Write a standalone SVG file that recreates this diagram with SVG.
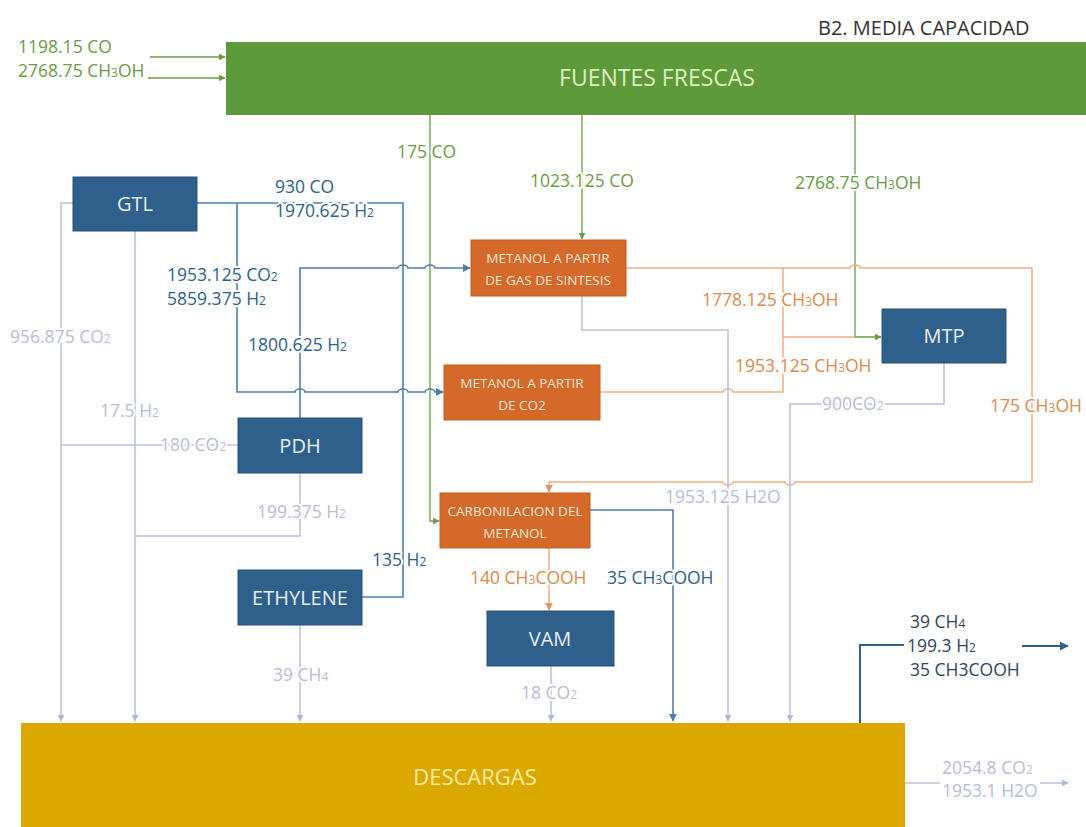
<svg xmlns="http://www.w3.org/2000/svg" width="1086" height="827" viewBox="0 0 1086 827">
  <style>
    text { font-family: "Open Sans", "Liberation Sans", sans-serif; }
    .lbl { font-size: 17.5px; paint-order: stroke; stroke: #ffffff; stroke-width: 4px; stroke-linejoin: round; }
    .sub { font-size: 12px; }
    .green-t { fill: #6c9a46; }
    .blue-t { fill: #2f5f8b; }
    .lav-t { fill: #b7bcd6; }
    .org-t { fill: #d98a4e; }
    .dark-t { fill: #2f4660; }
    .box-blue { fill: #2f5f8b; stroke: #285378; stroke-width: 1; }
    .box-org { fill: #d4692a; stroke: #c45e22; stroke-width: 1; }
    .box-t { fill: #e6eef8; font-size: 20px; text-anchor: middle; }
    .org-box-t { fill: #fbe6d4; font-size: 13.5px; text-anchor: middle; }
    .c-green { stroke: #6f9a47; stroke-width: 1.3; fill: none; }
    .c-blue { stroke: #4f7fab; stroke-width: 1.6; fill: none; }
    .c-lav { stroke: #b9c0de; stroke-width: 1.5; fill: none; }
    .c-org { stroke: #eeae84; stroke-width: 1.5; fill: none; }
    .c-dark { stroke: #2f5f8b; stroke-width: 2; fill: none; }
  </style>
  <defs>
    <marker id="ah-green" viewBox="0 0 10 10" refX="9" refY="5" markerWidth="7" markerHeight="7" orient="auto" markerUnits="userSpaceOnUse">
      <path d="M0,0 L10,5 L0,10 z" fill="#6f9a47"/>
    </marker>
    <marker id="ah-blue" viewBox="0 0 10 10" refX="9" refY="5" markerWidth="8" markerHeight="8" orient="auto" markerUnits="userSpaceOnUse">
      <path d="M0,0 L10,5 L0,10 z" fill="#4f7fab"/>
    </marker>
    <marker id="ah-lav" viewBox="0 0 10 10" refX="9" refY="5" markerWidth="7" markerHeight="7" orient="auto" markerUnits="userSpaceOnUse">
      <path d="M0,0 L10,5 L0,10 z" fill="#b0b8da"/>
    </marker>
    <marker id="ah-org" viewBox="0 0 10 10" refX="9" refY="5" markerWidth="8" markerHeight="8" orient="auto" markerUnits="userSpaceOnUse">
      <path d="M0,0 L10,5 L0,10 z" fill="#e49560"/>
    </marker>
    <marker id="ah-dark" viewBox="0 0 10 10" refX="9" refY="5" markerWidth="9" markerHeight="9" orient="auto" markerUnits="userSpaceOnUse">
      <path d="M0,0 L10,5 L0,10 z" fill="#2f5f8b"/>
    </marker>
  </defs>

  <rect width="1086" height="827" fill="#ffffff"/>

  <!-- connectors -->
  <g id="connectors">
    <!-- fresh feeds -->
    <path class="c-green" d="M150,57 H225" marker-end="url(#ah-green)"/>
    <path class="c-green" d="M148,78 H225" marker-end="url(#ah-green)"/>
    <path class="c-green" d="M430,115 V521 H439" marker-end="url(#ah-green)"/>
    <path class="c-green" d="M582,115 V239" marker-end="url(#ah-green)"/>
    <path class="c-green" d="M855,115 V337 H881" marker-end="url(#ah-green)"/>

    <!-- GTL gas products -->
    <path class="c-blue" d="M197,203 H403 V597 H362"/>
    <path class="c-blue" d="M237,203 V392 H295 a5,3 0 0 1 10,0 H398 a5,3 0 0 1 10,0 H425 a5,3 0 0 1 10,0 H443" marker-end="url(#ah-blue)"/>
    <path class="c-blue" d="M300,418 V268 H398 a5,3 0 0 1 10,0 H425 a5,3 0 0 1 10,0 H470" marker-end="url(#ah-blue)"/>
    <path class="c-blue" d="M590,510 H673 V721" marker-end="url(#ah-blue)"/>

    <!-- methanol distribution -->
    <path class="c-org" d="M626,268 H850 a5,3 0 0 1 10,0 H1032 V482 H795 a5,3 0 0 1 -10,0 H733 a5,3 0 0 1 -10,0 H549 V492" marker-end="url(#ah-org)"/>
    <path class="c-org" d="M783,268 V337 H855"/>
    <path class="c-org" d="M600,392 H723 a5,3 0 0 1 10,0 H783 V337"/>
    <path class="c-org" d="M549,548 V610" marker-end="url(#ah-org)"/>

    <!-- discharges -->
    <path class="c-lav" d="M73,203 H61 V721" marker-end="url(#ah-lav)"/>
    <path class="c-lav" d="M135,231 V721" marker-end="url(#ah-lav)"/>
    <path class="c-lav" d="M238,445 H61"/>
    <path class="c-lav" d="M300,473 V536 H135"/>
    <path class="c-lav" d="M300,625 V721" marker-end="url(#ah-lav)"/>
    <path class="c-lav" d="M551,666 V721" marker-end="url(#ah-lav)"/>
    <path class="c-lav" d="M582,296 V330 H728 V721" marker-end="url(#ah-lav)"/>
    <path class="c-lav" d="M944,363 V404 H790 V721" marker-end="url(#ah-lav)"/>
    <path class="c-lav" d="M905,783 H940"/>
    <path class="c-lav" d="M1040,783 H1068" marker-end="url(#ah-lav)"/>

    <!-- recovered stream -->
    <path class="c-dark" d="M860,723 V645 H904"/>
    <path class="c-dark" d="M1022,646 H1068" marker-end="url(#ah-dark)"/>

    <!-- stream labels -->
    <text class="lbl green-t" x="18" y="53">1198.15 CO</text>
    <text class="lbl green-t" x="18" y="77">2768.75 CH<tspan class="sub">3</tspan>OH</text>
    <text class="lbl green-t" x="397" y="158">175 CO</text>
    <text class="lbl green-t" x="530" y="187">1023.125 CO</text>
    <text class="lbl green-t" x="795" y="189">2768.75 CH<tspan class="sub">3</tspan>OH</text>

    <text class="lbl blue-t" x="275" y="193">930 CO</text>
    <text class="lbl blue-t" x="275" y="217">1970.625 H<tspan class="sub">2</tspan></text>
    <text class="lbl blue-t" x="167" y="281">1953.125 CO<tspan class="sub">2</tspan></text>
    <text class="lbl blue-t" x="167" y="305">5859.375 H<tspan class="sub">2</tspan></text>
    <text class="lbl blue-t" x="248" y="351">1800.625 H<tspan class="sub">2</tspan></text>
    <text class="lbl blue-t" x="372" y="566">135 H<tspan class="sub">2</tspan></text>
    <text class="lbl blue-t" x="607" y="584">35 CH<tspan class="sub">3</tspan>COOH</text>

    <text class="lbl org-t" x="702" y="306">1778.125 CH<tspan class="sub">3</tspan>OH</text>
    <text class="lbl org-t" x="735" y="372">1953.125 CH<tspan class="sub">3</tspan>OH</text>
    <text class="lbl org-t" x="990" y="412">175 CH<tspan class="sub">3</tspan>OH</text>
    <text class="lbl org-t" x="470" y="584">140 CH<tspan class="sub">3</tspan>COOH</text>

    <text class="lbl lav-t" x="10" y="343">956.875 CO<tspan class="sub">2</tspan></text>
    <text class="lbl lav-t" x="100" y="417">17.5 H<tspan class="sub">2</tspan></text>
    <text class="lbl lav-t" x="160" y="451">180 CO<tspan class="sub">2</tspan></text>
    <text class="lbl lav-t" x="257" y="518">199.375 H<tspan class="sub">2</tspan></text>
    <text class="lbl lav-t" x="273" y="681">39 CH<tspan class="sub">4</tspan></text>
    <text class="lbl lav-t" x="521" y="699">18 CO<tspan class="sub">2</tspan></text>
    <text class="lbl lav-t" x="665" y="503">1953.125 H2O</text>
    <text class="lbl lav-t" x="822" y="410">900CO<tspan class="sub">2</tspan></text>
    <text class="lbl lav-t" x="942" y="774">2054.8 CO<tspan class="sub">2</tspan></text>
    <text class="lbl lav-t" x="942" y="797">1953.1 H2O</text>

    <text class="lbl dark-t" x="910" y="628">39 CH<tspan class="sub">4</tspan></text>
    <text class="lbl dark-t" x="907" y="652">199.3 H<tspan class="sub">2</tspan></text>
    <text class="lbl dark-t" x="910" y="676">35 CH3COOH</text>
  </g>

  <!-- title -->
  <text id="title" x="818" y="35" font-size="20" fill="#333333">B2. MEDIA CAPACIDAD</text>

  <!-- nodes -->
  <g id="fuentes-frescas">
    <rect x="226" y="42" width="860" height="73" fill="#5f9a3a"/>
    <text x="657" y="86" font-size="23" fill="#dcf0c0" text-anchor="middle">FUENTES FRESCAS</text>
  </g>

  <g id="gtl">
    <rect class="box-blue" x="73" y="177" width="124" height="54"/>
    <text class="box-t" x="135" y="211">GTL</text>
  </g>

  <g id="pdh">
    <rect class="box-blue" x="238" y="418" width="124" height="55"/>
    <text class="box-t" x="300" y="453">PDH</text>
  </g>

  <g id="ethylene">
    <rect class="box-blue" x="238" y="570" width="124" height="55"/>
    <text class="box-t" x="300" y="605">ETHYLENE</text>
  </g>

  <g id="vam">
    <rect class="box-blue" x="487" y="611" width="127" height="55"/>
    <text class="box-t" x="550" y="646">VAM</text>
  </g>

  <g id="mtp">
    <rect class="box-blue" x="882" y="309" width="124" height="54"/>
    <text class="box-t" x="944" y="343">MTP</text>
  </g>

  <g id="metanol-gas-sintesis">
    <rect class="box-org" x="471" y="240" width="155" height="56"/>
    <text class="org-box-t" x="548" y="263">METANOL A PARTIR</text>
    <text class="org-box-t" x="548" y="285">DE GAS DE SINTESIS</text>
  </g>

  <g id="metanol-co2">
    <rect class="box-org" x="444" y="365" width="156" height="55"/>
    <text class="org-box-t" x="522" y="388">METANOL A PARTIR</text>
    <text class="org-box-t" x="522" y="410">DE CO2</text>
  </g>

  <g id="carbonilacion">
    <rect class="box-org" x="440" y="493" width="150" height="55"/>
    <text class="org-box-t" x="515" y="516">CARBONILACION DEL</text>
    <text class="org-box-t" x="515" y="538">METANOL</text>
  </g>

  <g id="descargas">
    <rect x="21" y="723" width="884" height="104" fill="#dba800"/>
    <text x="475" y="785" font-size="22" fill="#fcec9c" text-anchor="middle">DESCARGAS</text>
  </g>
</svg>
